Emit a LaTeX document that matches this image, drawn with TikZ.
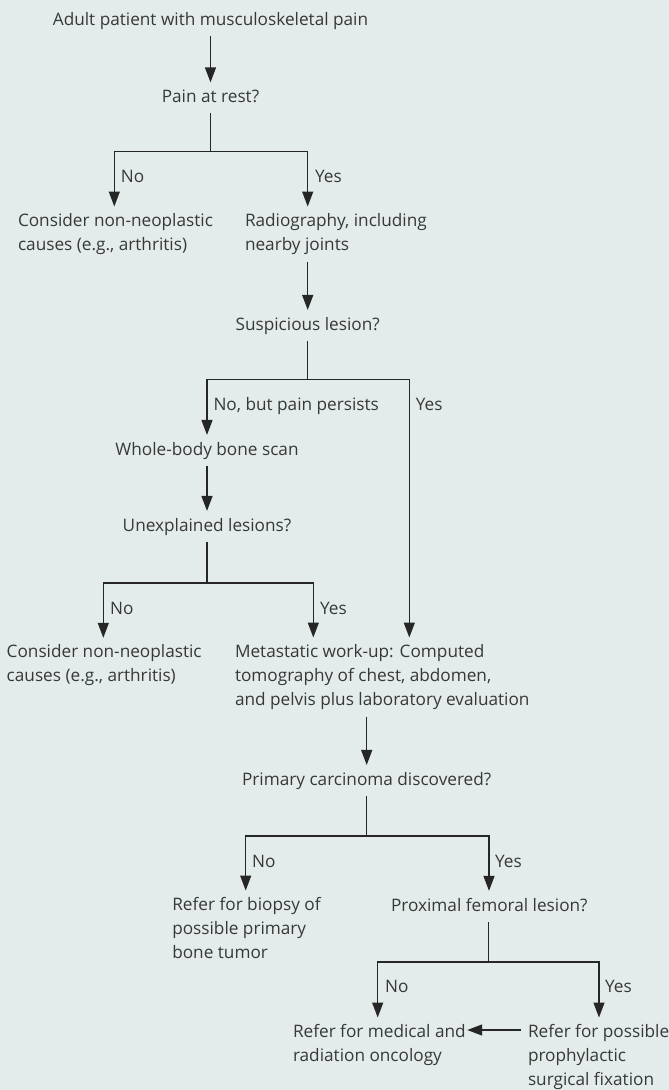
\documentclass[tikz,border=0pt]{standalone}
\usepackage{fontspec}
\setmainfont{Open Sans}
\usepackage{tikz}
\usetikzlibrary{arrows.meta, positioning, calc}
\definecolor{paneltint}{HTML}{E3ECEA}
\definecolor{inkgrey}{HTML}{383838}
\tikzset{every node/.style={font=\fontsize{17.2}{24}\selectfont, text=inkgrey}}

\begin{document}
\begin{tikzpicture}[x=1pt, y=-1pt,
    qbox/.style={inner sep=0pt, outer sep=0pt, outer ysep=7pt, text depth=4pt, anchor=base},
    txtbox/.style={inner sep=0pt, outer sep=0pt, outer ysep=7pt, align=left, anchor=north west},
    lbl/.style={inner sep=0pt, anchor=base west},
    wire/.style={draw=black!85, line width=1.3pt},
    flow/.style={wire, -{Triangle[length=15pt, width=11pt]}}]
  \fill[paneltint] (0,0) rectangle (669,1090);
  \useasboundingbox (0,0) rectangle (669,1090);

  % first question
  \node[qbox] (adult) at (210.5,25) {Adult patient with musculoskeletal pain};
  \node[qbox] (rest) at (210.5,102) {Pain at rest?};
  \node[txtbox] (noneo) at (18,206.5) {Consider non-neoplastic\\causes (e.g., arthritis)};
  \node[txtbox] (radio) at (245,206.5) {Radiography, including\\nearby joints};
  \coordinate (j1) at (210.5,151.7);
  \coordinate (j1l) at (114.3,151.7);
  \coordinate (j1r) at (307.7,151.7);
  \draw[flow] (adult) -- (rest);
  \draw[wire] (rest) -- (j1);
  \draw[flow] (j1) -| (j1l |- noneo.north);
  \draw[flow] (j1) -| (j1r |- radio.north);
  \node[lbl] (no1) at (120.7,182.7) {No};
  \node[lbl] (yes1) at (315,182.7) {Yes};

  % suspicious lesion
  \node[qbox] (susp) at (307.7,330) {Suspicious lesion?};
  \node[qbox] (scan) at (207,455) {Whole-body bone scan};
  \node[qbox] (unexpl) at (207,531) {Unexplained lesions?};
  \node[txtbox] (noneob) at (6.7,637.8) {Consider non-neoplastic\\causes (e.g., arthritis)};
  \node[txtbox] (meta) at (235,637.5) {Metastatic work-up: Computed\\tomography of chest, abdomen,\\and pelvis plus laboratory evaluation};
  \coordinate (j2) at (307.7,379.7);
  \coordinate (j2l) at (207,379.7);
  \coordinate (j2r) at (409.3,379.7);
  \draw[flow] (susp |- radio.south) -- (susp);
  \draw[wire] (susp) -- (j2);
  \draw[flow] (j2) -| (j2l |- scan.north);
  \draw[flow] (j2) -| (j2r |- meta.north);
  \node[lbl] (no2) at (213.3,410.7) {No, but pain persists};
  \node[lbl] (yes2) at (415.7,410.7) {Yes};
  \draw[flow] (scan) -- (unexpl);
  \coordinate (j3) at (207,583);
  \coordinate (j3l) at (103.3,583);
  \coordinate (j3r) at (313.3,583);
  \draw[wire] (unexpl) -- (j3);
  \draw[flow] (j3) -| (j3l |- noneob.north);
  \draw[flow] (j3) -| (j3r |- meta.north);
  \node[lbl] (no3) at (110,614) {No};
  \node[lbl] (yes3) at (320,614) {Yes};

  % primary carcinoma
  \node[qbox] (primary) at (366.7,785) {Primary carcinoma discovered?};
  \node[txtbox] (biopsy) at (172.3,890.5) {Refer for biopsy of\\possible primary\\bone tumor};
  \node[qbox, anchor=base west] (femoral) at (391,911) {Proximal femoral lesion?};
  \coordinate (j4) at (366.7,836);
  \coordinate (j4l) at (245.7,836);
  \coordinate (j4r) at (489,836);
  \draw[flow] (primary |- meta.south) -- (primary);
  \draw[wire] (primary) -- (j4);
  \draw[flow] (j4) -| (j4l |- biopsy.north);
  \draw[flow] (j4) -| (j4r |- femoral.north);
  \node[lbl] (no4) at (252,867) {No};
  \node[lbl] (yes4) at (495,867) {Yes};

  % femoral lesion
  \node[txtbox] (medical) at (293,1017.5) {Refer for medical and\\radiation oncology};
  \node[txtbox] (fixation) at (528,1017.5) {Refer for possible\\prophylactic\\surgical fixation};
  \coordinate (j5) at (488.3,962);
  \coordinate (j5l) at (377.7,962);
  \coordinate (j5r) at (599,962);
  \draw[wire] (j5 |- femoral.south) -- (j5);
  \draw[flow] (j5) -| (j5l |- medical.north);
  \draw[flow] (j5) -| (j5r |- fixation.north);
  \node[lbl] (no5) at (385,992.7) {No};
  \node[lbl] (yes5) at (605,992.7) {Yes};
  \draw[flow] ($(fixation.north west)+(-7,12.5)$) -- ($(fixation.north west -| medical.east)+(1.5,12.5)$);
\end{tikzpicture}
\end{document}
